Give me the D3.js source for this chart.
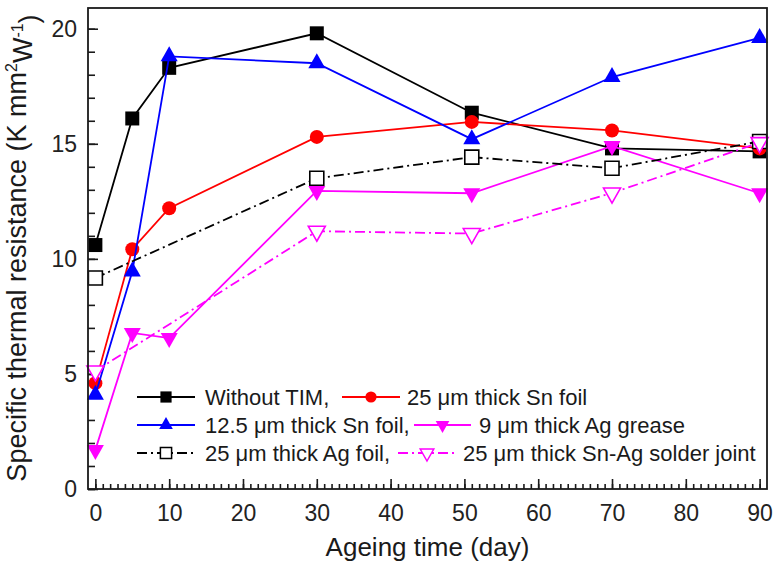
<!DOCTYPE html>
<html>
<head>
<meta charset="utf-8">
<script src="https://cdn.jsdelivr.net/npm/d3@7"></script>
<style>
  html, body { margin: 0; padding: 0; background: #fff; }
  svg { display: block; font-family: "Liberation Sans", Arial, Helvetica, sans-serif; }
</style>
</head>
<body>
<svg id="chart" width="780" height="569"></svg>
<script>
// ---- data ----
const days = [0, 5, 10, 30, 51, 70, 90];
const daysFoil = [0, 30, 51, 70, 90];
const withoutTIM = [10.6, 16.1, 18.3, 19.8, 16.35, 14.8, 14.67];
const snFoil25 = [4.6, 10.42, 12.2, 15.3, 15.95, 15.58, 14.8];
const snFoil125 = [4.1, 9.45, 18.8, 18.5, 15.2, 17.9, 19.6];
const agGrease9 = [1.7, 6.78, 6.56, 12.95, 12.85, 14.9, 12.85];
const agFoil25 = [9.17, 13.5, 14.42, 13.94, 15.1];
const snAgJoint25 = [5.13, 11.2, 11.1, 12.86, 15.05];

const xMajorTicks = [0, 10, 20, 30, 40, 50, 60, 70, 80, 90];
const yMajorTicks = [0, 5, 10, 15, 20];
const xLabel = "Ageing time (day)";

const seriesNames = [
  "Without TIM,",
  "25 \u03bcm thick Sn foil",
  "12.5 \u03bcm thick Sn foil,",
  "9 \u03bcm thick Ag grease",
  "25 \u03bcm thick Ag foil,",
  "25 \u03bcm thick Sn-Ag solder joint"
];

// ---- setup ----
const svg = d3.select("#chart");
const L = 88, R = 767, T = 8, B = 489;
const x = d3.scaleLinear().domain([-1, 91]).range([L, R]);
const y = d3.scaleLinear().domain([0, 20.9]).range([B, T]);

const DASHDOT = "10,4,2,4";
const series = [
  { name: seriesNames[0], xs: days, vs: withoutTIM, color: "#000", marker: "square", fill: "#000", dash: null },
  { name: seriesNames[1], xs: days, vs: snFoil25, color: "#ff0000", marker: "circle", fill: "#ff0000", dash: null },
  { name: seriesNames[2], xs: days, vs: snFoil125, color: "#0000ff", marker: "tri", fill: "#0000ff", dash: null },
  { name: seriesNames[3], xs: days, vs: agGrease9, color: "#ff00ff", marker: "tridown", fill: "#ff00ff", dash: null },
  { name: seriesNames[4], xs: daysFoil, vs: agFoil25, color: "#000", marker: "square", fill: "#fff", dash: DASHDOT },
  { name: seriesNames[5], xs: daysFoil, vs: snAgJoint25, color: "#ff00ff", marker: "tridown", fill: "#fff", dash: DASHDOT }
];

function markerPath(type, s) {
  if (type === "square") { const h = 7 * s; return `M${-h},${-h}H${h}V${h}H${-h}Z`; }
  if (type === "circle") { const r = 7 * s; return `M${r},0A${r},${r} 0 1,1 ${-r},0A${r},${r} 0 1,1 ${r},0Z`; }
  if (type === "tri") { const w = 8.5 * s, a = 10 * s, b = 5 * s; return `M0,${-a}L${w},${b}L${-w},${b}Z`; }
  if (type === "tridown") { const w = 8.5 * s, a = 10 * s, b = 5 * s; return `M0,${a}L${w},${-b}L${-w},${-b}Z`; }
}

svg.append("rect").attr("width", 780).attr("height", 569).attr("fill", "#fff");

// ---- axes ----
const axisColor = "#1a1a1a";
const gx = svg.append("g").attr("transform", `translate(0,${B})`);
gx.call(d3.axisBottom(x).tickValues(d3.range(0, 91, 1)).tickSize(-5).tickFormat(""));
gx.select(".domain").remove();
const gx2 = svg.append("g").attr("transform", `translate(0,${B})`);
gx2.call(d3.axisBottom(x).tickValues(xMajorTicks).tickSize(-10).tickPadding(16).tickFormat(d3.format("d")));
gx2.select(".domain").remove();

const gy = svg.append("g").attr("transform", `translate(${L},0)`);
gy.call(d3.axisLeft(y).tickValues(d3.range(0, 21, 1)).tickSize(-7).tickFormat(""));
gy.select(".domain").remove();
const gy2 = svg.append("g").attr("transform", `translate(${L},0)`);
gy2.call(d3.axisLeft(y).tickValues(yMajorTicks).tickSize(-10).tickPadding(11).tickFormat(d3.format("d")));
gy2.select(".domain").remove();

svg.selectAll(".tick line").attr("stroke", axisColor).attr("stroke-width", 1.6);
svg.selectAll(".tick text").attr("fill", "#222").style("font-size", "23px")
   .style("font-family", "'Liberation Sans', Arial, sans-serif");

// ---- series ----
const line = d3.line().x(d => x(d[0])).y(d => y(d[1]));
const plot = svg.append("g");
series.forEach(s => {
  const pts = s.xs.map((d, i) => [d, s.vs[i]]);
  plot.append("path").datum(pts).attr("d", line)
    .attr("fill", "none").attr("stroke", s.color).attr("stroke-width", 1.8)
    .attr("stroke-dasharray", s.dash);
  plot.selectAll(null).data(pts).enter().append("path")
    .attr("transform", d => `translate(${x(d[0])},${y(d[1])})`)
    .attr("d", markerPath(s.marker, 1))
    .attr("fill", s.fill)
    .attr("stroke", s.fill === "#fff" ? s.color : "none")
    .attr("stroke-width", 1.6);
});

// ---- frame ----
svg.append("rect").attr("x", L).attr("y", T).attr("width", R - L).attr("height", B - T)
  .attr("fill", "none").attr("stroke", axisColor).attr("stroke-width", 1.8);

// ---- legend ----
const legendLayout = [
  { lx: 137, ly: 397, lw: 58, tx: 205 },
  { lx: 342, ly: 397, lw: 58, tx: 407 },
  { lx: 137, ly: 425, lw: 58, tx: 205 },
  { lx: 414, ly: 425, lw: 57, tx: 479 },
  { lx: 137, ly: 453, lw: 58, tx: 205 },
  { lx: 398, ly: 453, lw: 58, tx: 463 }
];
const leg = svg.append("g");
series.forEach((s, i) => {
  const p = legendLayout[i];
  leg.append("line").attr("x1", p.lx).attr("x2", p.lx + p.lw).attr("y1", p.ly).attr("y2", p.ly)
    .attr("stroke", s.color).attr("stroke-width", 1.8).attr("stroke-dasharray", s.dash);
  leg.append("path").attr("transform", `translate(${p.lx + p.lw / 2},${p.ly})`)
    .attr("d", markerPath(s.marker, 0.8))
    .attr("fill", s.fill).attr("stroke", s.fill === "#fff" ? s.color : "none").attr("stroke-width", 1.5);
  leg.append("text").attr("x", p.tx).attr("y", p.ly + 7.5).attr("fill", "#1a1a1a")
    .style("font-size", "22px").text(s.name);
});

// ---- axis titles ----
svg.append("text").attr("x", (L + R) / 2).attr("y", 556).attr("text-anchor", "middle")
  .attr("fill", "#1a1a1a").style("font-size", "26px").text(xLabel);

const yt = svg.append("text").attr("transform", "translate(26,248) rotate(-90)")
  .attr("text-anchor", "middle").attr("fill", "#1a1a1a").style("font-size", "27px");
yt.append("tspan").text("Specific thermal resistance (K mm");
yt.append("tspan").attr("dy", "-0.55em").style("font-size", "16px").text("2");
yt.append("tspan").attr("dy", "0.55em").text("W");
yt.append("tspan").attr("dy", "-0.55em").style("font-size", "16px").text("-1");
yt.append("tspan").attr("dy", "0.55em").text(")");
</script>
</body>
</html>
